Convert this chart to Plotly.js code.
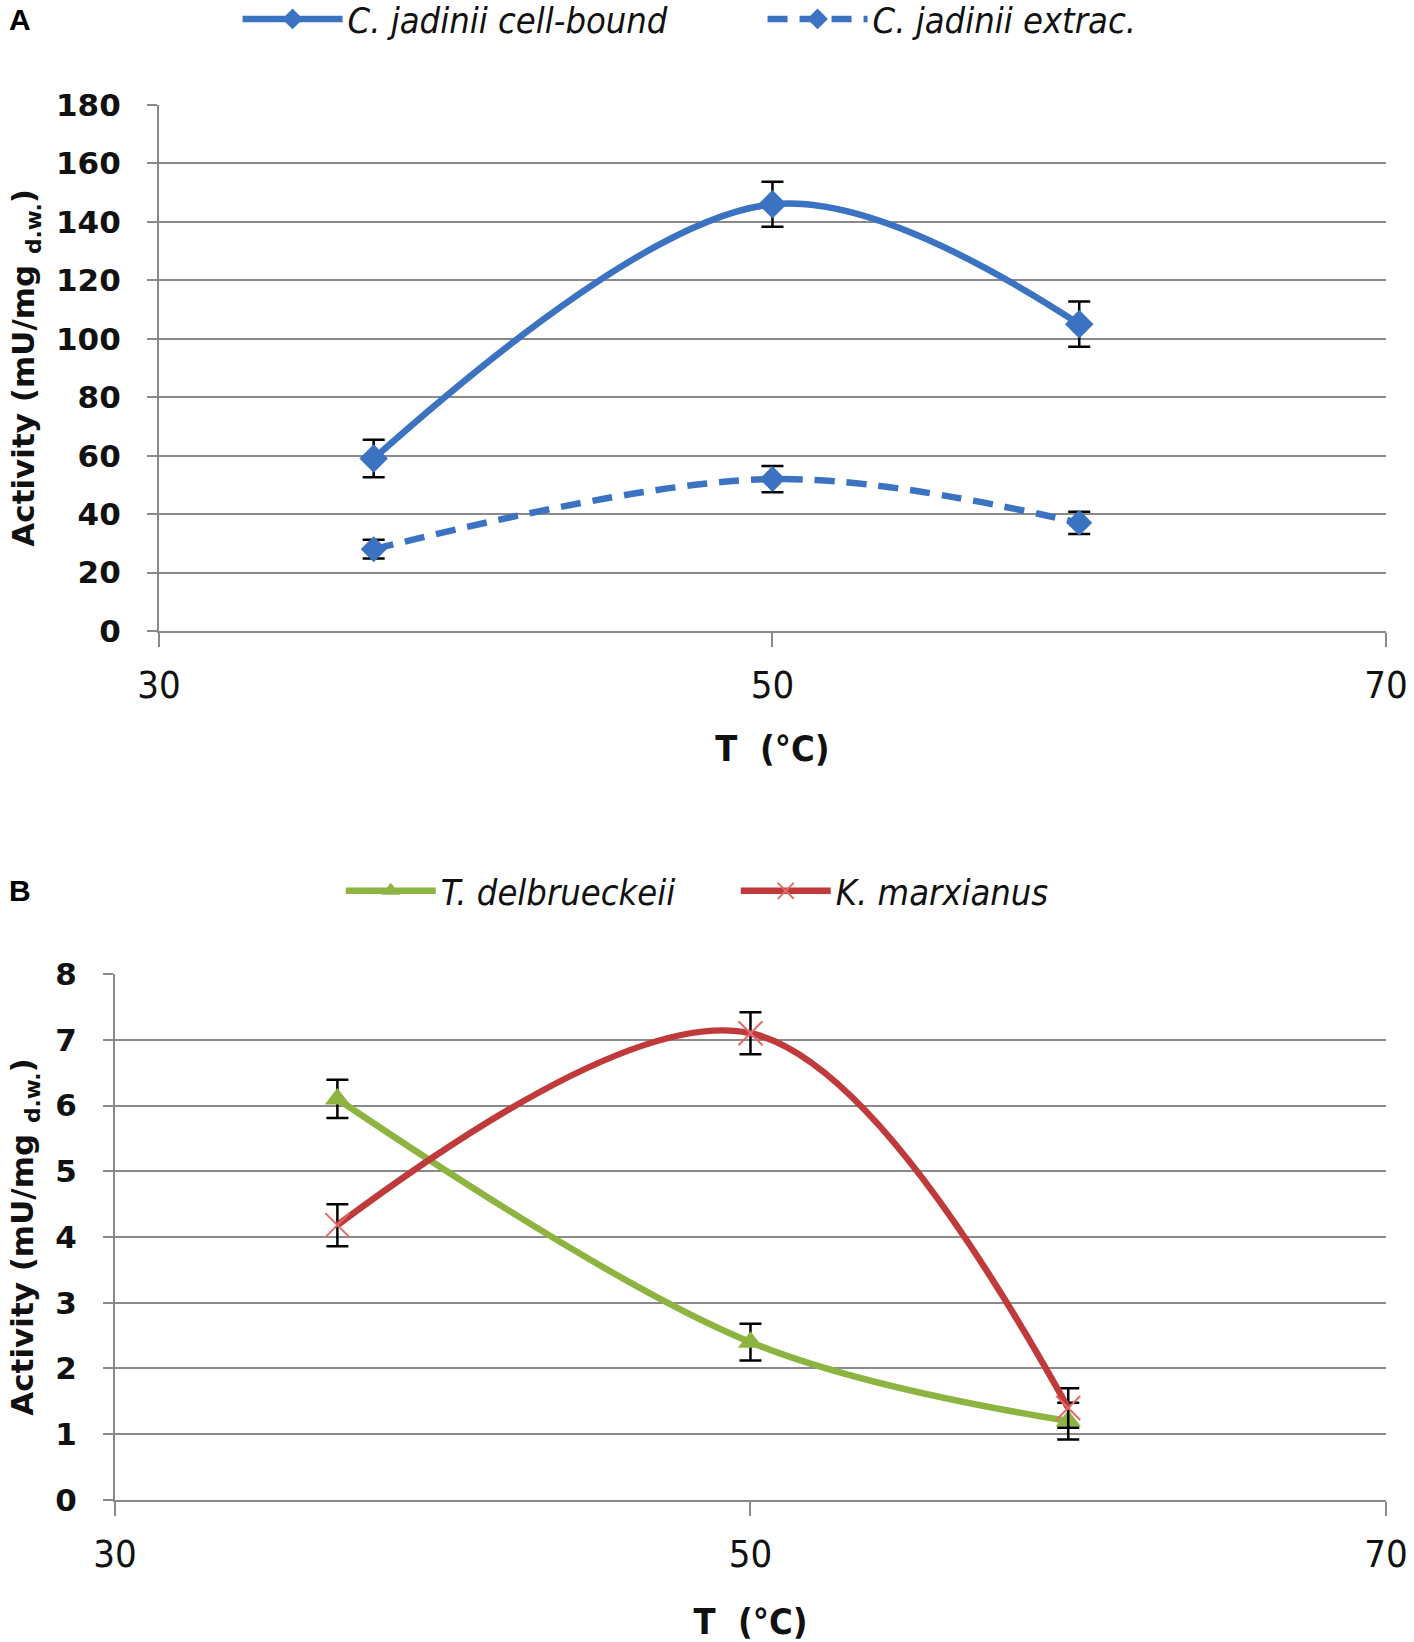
<!DOCTYPE html>
<html>
<head>
<meta charset="utf-8">
<script src="https://cdn.plot.ly/plotly-3.0.1.min.js"></script>
<style>
  html, body { margin: 0; padding: 0; background: #ffffff; }
  #chart { width: 1414px; height: 1642px; }
</style>
</head>
<body>
<div id="chart"></div>
<script>
// temperatures (°C)
var temps = [37, 50, 60];

// panel A, C. jadinii
var cellBound = [59, 146, 105];
var cellBoundErr = [6.4, 7.7, 7.7];
var extrac = [28, 52, 37];
var extracErr = [3.2, 4.5, 3.8];

// panel B
var delbrueckeii = [6.1, 2.4, 1.2];
var delbrueckeiiErr = [0.29, 0.28, 0.28];
var marxianus = [4.18, 7.1, 1.4];
var marxianusErr = [0.32, 0.32, 0.3];

var blue = '#3C72C2';
var green = '#8DB440';
var red = '#C0393B';
var gridGray = '#8a8a8a';

var tickFontY = {family: 'DejaVu Sans', size: 31, color: '#111', weight: 'bold'};
var tickFontX = {family: 'DejaVu Sans Condensed', size: 38, color: '#111'};
var titleFontY = {family: 'DejaVu Sans', size: 31, color: '#111', weight: 'bold'};
var titleFontX = {family: 'DejaVu Sans Condensed', size: 36, color: '#111', weight: 'bold'};
var legendFont = {family: 'DejaVu Sans Condensed', size: 36, color: '#111', style: 'italic'};

function errBar(arr) {
  return {type: 'data', array: arr, visible: true, color: '#000', thickness: 2.5, width: 11};
}

var traces = [
  {
    x: temps, y: cellBound, name: 'C. jadinii cell-bound',
    type: 'scatter', mode: 'lines+markers',
    line: {color: blue, width: 6.5, shape: 'spline', smoothing: 1},
    marker: {symbol: 'diamond', size: 22, color: blue},
    error_y: errBar(cellBoundErr),
    xaxis: 'x', yaxis: 'y', legend: 'legend'
  },
  {
    x: temps, y: extrac, name: 'C. jadinii extrac.',
    type: 'scatter', mode: 'lines+markers',
    line: {color: blue, width: 6.5, shape: 'spline', smoothing: 1, dash: '20px,12px'},
    marker: {symbol: 'diamond', size: 20, color: blue},
    error_y: errBar(extracErr),
    xaxis: 'x', yaxis: 'y', legend: 'legend'
  },
  {
    x: temps, y: delbrueckeii, name: 'T. delbrueckeii',
    type: 'scatter', mode: 'lines+markers',
    line: {color: green, width: 6.5, shape: 'spline', smoothing: 1},
    marker: {symbol: 'triangle-up', size: 22, color: green},
    error_y: errBar(delbrueckeiiErr),
    xaxis: 'x2', yaxis: 'y2', legend: 'legend2'
  },
  {
    x: temps, y: marxianus, name: 'K. marxianus',
    type: 'scatter', mode: 'lines+markers',
    line: {color: red, width: 6.5, shape: 'spline', smoothing: 1},
    marker: {symbol: 'x-thin', size: 24, color: '#E06a6a', line: {color: '#E06a6a', width: 2}},
    error_y: errBar(marxianusErr),
    xaxis: 'x2', yaxis: 'y2', legend: 'legend2'
  }
];

function xAxis(domain, anchor, standoff) {
  return {
    domain: domain, anchor: anchor,
    range: [30, 70], tick0: 30, dtick: 20,
    showgrid: false, zeroline: false,
    showline: true, linecolor: gridGray, linewidth: 2,
    ticks: 'outside', ticklen: 14, tickwidth: 2, tickcolor: gridGray,
    ticklabelstandoff: 5,
    tickfont: tickFontX,
    title: {text: 'T  (°C)', font: titleFontX, standoff: standoff}
  };
}

function yAxis(domain, anchor, range, dtick) {
  return {
    domain: domain, anchor: anchor,
    range: range, dtick: dtick,
    showgrid: true, gridcolor: gridGray, gridwidth: 2,
    zeroline: false,
    showline: true, linecolor: gridGray, linewidth: 2,
    ticks: 'outside', ticklen: 10, tickwidth: 2, tickcolor: gridGray,
    ticklabelstandoff: 20,
    tickfont: tickFontY,
    title: {text: 'Activity (mU/mg <sub>d.w.</sub>)', font: titleFontY, standoff: 12}
  };
}

var layout = {
  width: 1414,
  height: 1642,
  margin: {l: 0, r: 0, t: 0, b: 0, autoexpand: false},
  paper_bgcolor: '#ffffff',
  plot_bgcolor: '#ffffff',
  showlegend: true,
  xaxis: xAxis([0.1124, 0.9802], 'y', 30),
  yaxis: yAxis([0.6157, 0.9361], 'x', [0, 180], 20),
  xaxis2: xAxis([0.0813, 0.9802], 'y2', 38),
  yaxis2: yAxis([0.0865, 0.4068], 'x2', [0, 8], 1),
  legend: {
    orientation: 'h', x: 0.168, y: 0.9884, xanchor: 'left', yanchor: 'middle',
    itemwidth: 100, entrywidth: 410, entrywidthmode: 'pixels',
    font: legendFont, bgcolor: 'rgba(0,0,0,0)'
  },
  legend2: {
    orientation: 'h', x: 0.241, y: 0.4574, xanchor: 'left', yanchor: 'middle',
    itemwidth: 90, entrywidth: 290, entrywidthmode: 'pixels',
    font: legendFont, bgcolor: 'rgba(0,0,0,0)'
  },
  annotations: [
    {text: 'A', xref: 'paper', yref: 'paper', x: 0.005, y: 0.9884, xanchor: 'left', yanchor: 'middle',
     showarrow: false, font: {family: 'Liberation Sans', size: 30, color: '#000', weight: 'bold'}},
    {text: 'B', xref: 'paper', yref: 'paper', x: 0.005, y: 0.4574, xanchor: 'left', yanchor: 'middle',
     showarrow: false, font: {family: 'Liberation Sans', size: 30, color: '#000', weight: 'bold'}}
  ]
};

var config = {staticPlot: true, displayModeBar: false};

Plotly.newPlot('chart', traces, layout, config);
</script>
</body>
</html>
